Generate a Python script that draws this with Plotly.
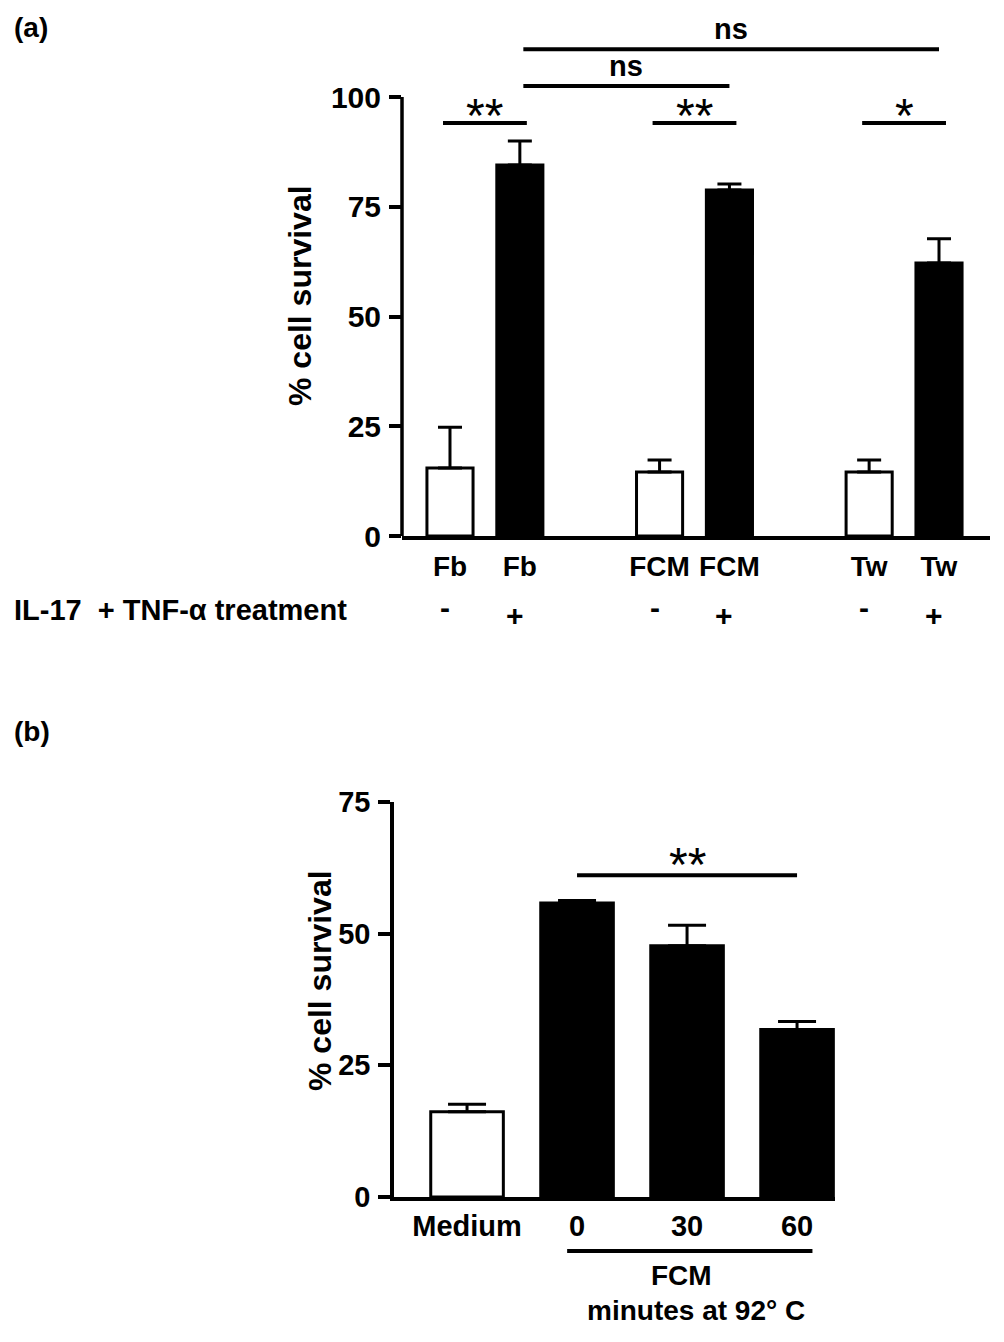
import plotly.graph_objects as go

# ---------------- data ----------------
# panel (a)
a_groups = ["Fb", "FCM", "Tw"]
a_treat = ["-", "+"]
a_values = [15.5, 84.5, 14.6, 78.8, 14.6, 62.2]      # order: Fb-, Fb+, FCM-, FCM+, Tw-, Tw+
a_errors = [9.3, 5.5, 2.7, 1.4, 2.7, 5.5]
a_yticks = [0, 25, 50, 75, 100]
a_yrange_max = 115

# significance brackets (a): (start bar index, end bar index, level, label)
a_sig = [(0, 1, 94.1, "**"), (2, 3, 94.1, "**"), (4, 5, 94.1, "*"),
         (1, 3, 102.5, "ns"), (1, 5, 110.9, "ns")]

# panel (b)
b_categories = ["Medium", "0", "30", "60"]
b_values = [16.2, 55.8, 47.7, 31.8]
b_errors = [1.4, 0.5, 3.9, 1.5]
b_yticks = [0, 25, 50, 75]
b_sig = (1, 3, 61.1, "**")

# ---------------- styling ----------------
FONT = "Liberation Sans, Arial, Helvetica, sans-serif"
W, H = 1004, 1342
LW = 3.5

def px_x(p):
    return p / W

def px_y(p):
    return 1 - p / H

# bar positions from group structure (one empty slot between groups)
a_x = [g * (len(a_treat) + 1) + t for g in range(len(a_groups)) for t in range(len(a_treat))]
a_labels = [g for g in a_groups for _ in a_treat]
a_signs = [t for _ in a_groups for t in a_treat]
a_colors = ["white" if s == "-" else "black" for s in a_signs]

b_x = list(range(len(b_categories)))
b_colors = ["white"] + ["black"] * (len(b_categories) - 1)

fig = go.Figure()

fig.add_trace(go.Bar(
    x=a_x, y=a_values, width=0.66,
    marker=dict(color=a_colors, line=dict(color="black", width=3)),
    error_y=dict(type="data", array=a_errors, arrayminus=[0] * len(a_errors),
                 symmetric=False, color="black", thickness=3, width=12),
    xaxis="x", yaxis="y", showlegend=False,
))

fig.add_trace(go.Bar(
    x=b_x, y=b_values, width=0.66,
    marker=dict(color=b_colors, line=dict(color="black", width=3)),
    error_y=dict(type="data", array=b_errors, arrayminus=[0] * len(b_errors),
                 symmetric=False, color="black", thickness=3, width=19),
    xaxis="x2", yaxis="y2", showlegend=False,
))

tickfont_a = dict(family=FONT, size=30, color="black", weight="bold")
xtickfont_a = dict(family=FONT, size=28, color="black", weight="bold")
tickfont_b = dict(family=FONT, size=29, color="black", weight="bold")

fig.update_layout(
    template="none",
    width=W, height=H,
    margin=dict(l=0, r=0, t=0, b=0, pad=0, autoexpand=False),
    paper_bgcolor="white", plot_bgcolor="white",
    font=dict(family=FONT, color="black"),
    showlegend=False,
    xaxis=dict(domain=[px_x(402), px_x(990)], range=[-0.687, 7.73],
               showline=True, linewidth=LW, linecolor="black",
               showgrid=False, zeroline=False, ticks="", automargin=False,
               tickvals=a_x, ticktext=a_labels, tickfont=xtickfont_a,
               ticklabelstandoff=3, anchor="y", fixedrange=True),
    yaxis=dict(domain=[px_y(536), px_y(536 - a_yrange_max * 4.39)],
               range=[0, a_yrange_max], automargin=False,
               showline=False, showgrid=False, zeroline=False,
               ticks="outside", ticklen=12, tickwidth=LW, tickcolor="black",
               tickvals=a_yticks, tickfont=tickfont_a, ticklabelstandoff=2,
               anchor="x", fixedrange=True),
    xaxis2=dict(domain=[px_x(394), px_x(835)], range=[-0.664, 3.345],
                showline=True, linewidth=LW, linecolor="black",
                showgrid=False, zeroline=False, ticks="", automargin=False,
                tickvals=b_x, ticktext=b_categories, tickfont=tickfont_b,
                ticklabelstandoff=0, anchor="y2", fixedrange=True),
    yaxis2=dict(domain=[px_y(1197), px_y(802)], range=[0, 75],
                showline=True, linewidth=LW, linecolor="black",
                showgrid=False, zeroline=False, automargin=False,
                ticks="outside", ticklen=12, tickwidth=LW, tickcolor="black",
                tickvals=b_yticks, tickfont=tickfont_b, ticklabelstandoff=2,
                anchor="x2", fixedrange=True),
)

shapes = []
annotations = []

# y-axis line of panel (a), only up to the top tick
shapes.append(dict(type="line", xref="x domain", yref="y", x0=0, x1=0,
                   y0=0, y1=max(a_yticks), line=dict(color="black", width=LW)))

star_font = dict(family=FONT, size=48, color="black")
ns_font = dict(family=FONT, size=29, weight="bold", color="black")

# brackets (a)
for i0, i1, lvl, lab in a_sig:
    if lab == "ns":
        xa0, xa1 = a_x[i0] + 0.05, a_x[i1]
    else:
        xa0, xa1 = a_x[i0] - 0.1, a_x[i1] + 0.1
    shapes.append(dict(type="line", xref="x", yref="y", x0=xa0, x1=xa1,
                       y0=lvl, y1=lvl, line=dict(color="black", width=4)))
    if lab == "ns":
        annotations.append(dict(xref="x", yref="y", x=(xa0 + xa1) / 2, y=lvl,
                                yanchor="bottom", yshift=2, text=lab, showarrow=False,
                                font=ns_font))
    else:
        annotations.append(dict(xref="x", yref="y", x=(xa0 + xa1) / 2, y=lvl,
                                yanchor="bottom", yshift=-21, text=lab, showarrow=False,
                                font=star_font))

# treatment signs (a)
sign_shift = {"-": 5, "+": -3}
for xv, s in zip(a_x, a_signs):
    annotations.append(dict(xref="x", yref="paper", x=xv, y=px_y(612),
                            yanchor="middle", xshift=-5, yshift=sign_shift[s],
                            text=s, showarrow=False,
                            font=dict(family=FONT, size=30, weight="bold")))

annotations.append(dict(xref="paper", yref="paper", x=px_x(12), y=px_y(610),
                        xanchor="left", yanchor="middle",
                        text="IL-17&nbsp; + TNF-\u03b1 treatment", showarrow=False,
                        font=dict(family=FONT, size=29, weight="bold")))

# bracket (b)
i0, i1, lvl, lab = b_sig
shapes.append(dict(type="line", xref="x2", yref="y2", x0=b_x[i0], x1=b_x[i1],
                   y0=lvl, y1=lvl, line=dict(color="black", width=4)))
annotations.append(dict(xref="x2", yref="y2", x=(b_x[i0] + b_x[i1]) / 2, y=lvl,
                        yanchor="bottom", yshift=-18, text=lab, showarrow=False,
                        font=star_font))

# FCM underline (b)
shapes.append(dict(type="line", xref="x2", yref="paper", x0=b_x[1] - 0.09, x1=b_x[3] + 0.14,
                   y0=px_y(1251), y1=px_y(1251), line=dict(color="black", width=4)))
annotations.append(dict(xref="x2", yref="paper", x=(b_x[1] + b_x[3]) / 2, y=px_y(1275),
                        yanchor="middle", xshift=-6, text="FCM", showarrow=False,
                        font=dict(family=FONT, size=28, weight="bold")))
annotations.append(dict(xref="x2", yref="paper", x=(b_x[1] + b_x[3]) / 2, y=px_y(1310),
                        yanchor="middle", xshift=9, text="minutes at 92\u00b0 C", showarrow=False,
                        font=dict(family=FONT, size=28, weight="bold")))

# y-axis titles
annotations.append(dict(xref="paper", yref="paper", x=px_x(300), y=px_y(296),
                        xanchor="center", yanchor="middle", textangle=-90,
                        text="% cell survival", showarrow=False,
                        font=dict(family=FONT, size=32, weight="bold")))
annotations.append(dict(xref="paper", yref="paper", x=px_x(320), y=px_y(981),
                        xanchor="center", yanchor="middle", textangle=-90,
                        text="% cell survival", showarrow=False,
                        font=dict(family=FONT, size=32, weight="bold")))

# panel labels
annotations.append(dict(xref="paper", yref="paper", x=px_x(12), y=px_y(27),
                        xanchor="left", yanchor="middle", text="(a)", showarrow=False,
                        font=dict(family=FONT, size=28, weight="bold")))
annotations.append(dict(xref="paper", yref="paper", x=px_x(12), y=px_y(731),
                        xanchor="left", yanchor="middle", text="(b)", showarrow=False,
                        font=dict(family=FONT, size=28, weight="bold")))

fig.update_layout(shapes=shapes, annotations=annotations)

fig.write_html("out.html", config={"displayModeBar": False},
               post_script="document.body.style.margin='0';")
